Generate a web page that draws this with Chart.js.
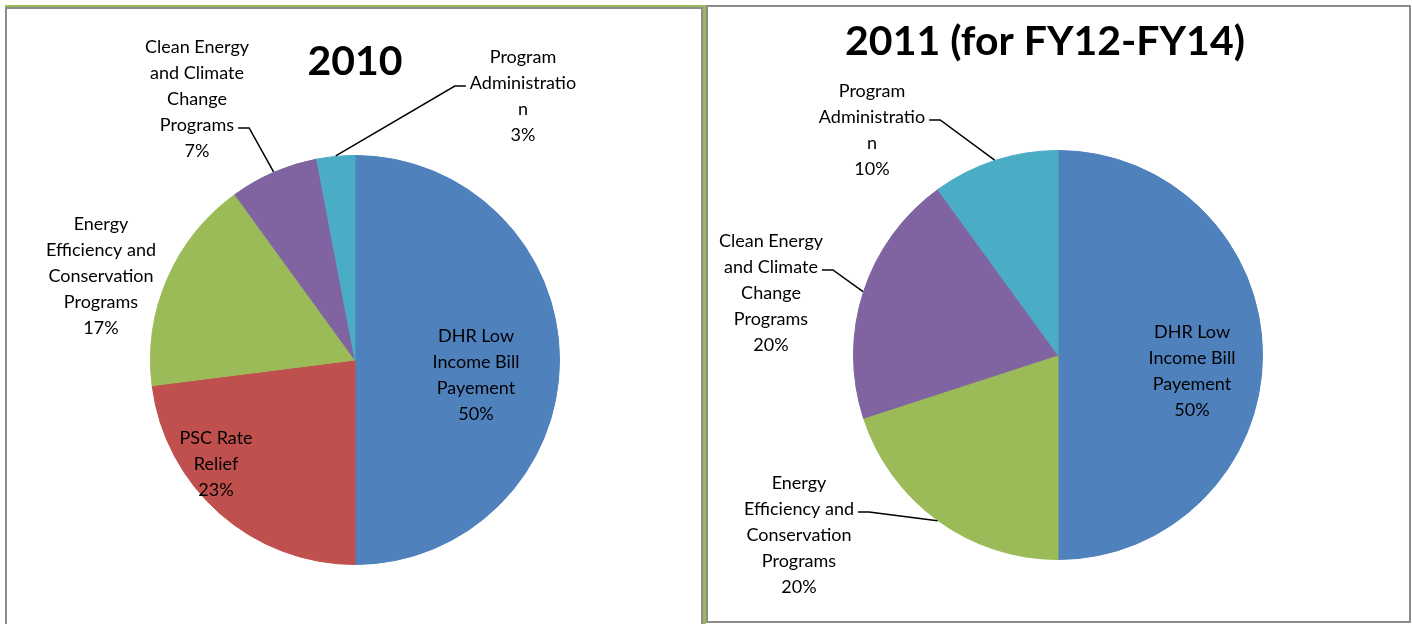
<!DOCTYPE html>
<html lang="en">
<head>
  <meta charset="UTF-8">
  <title>2010 / 2011 pie charts</title>
  <script src="https://cdn.jsdelivr.net/npm/chart.js"></script>
  <style>
    body {
      margin: 0;
      padding: 0;
      width: 1412px;
      height: 624px;
      background: #ffffff;
      position: relative;
      overflow: hidden;
    }
    /* left frame: green edge on top and right, grey inner line */
    #leftGreen {
      position: absolute;
      left: 5px; top: 5px;
      width: 701px; height: 630px;
      box-sizing: border-box;
      border-top: 2px solid #9bbb59;
      border-right: 3px solid #9bbb59;
    }
    #leftBox {
      position: absolute;
      left: 5px; top: 7px;
      width: 698px; height: 630px;
      box-sizing: border-box;
      border: 2px solid #8c8c8c;
    }
    #rightBox {
      position: absolute;
      left: 706px; top: 5px;
      width: 705px; height: 618px;
      box-sizing: border-box;
      border: 2px solid #8c8c8c;
    }
    canvas { position: absolute; }
    #chart2010 { left: 7px; top: 9px; }
    #chart2011 { left: 708px; top: 7px; }
  </style>
</head>
<body>
  <div id="leftGreen"></div>
  <div id="leftBox"></div>
  <div id="rightBox"></div>
  <canvas id="chart2010" width="694" height="615"></canvas>
  <canvas id="chart2011" width="701" height="614"></canvas>

  <script>
    // ---- data ----
    const title2010 = "2010";
    const categories2010 = [
      "DHR Low Income Bill Payement",
      "PSC Rate Relief",
      "Energy Efficiency and Conservation Programs",
      "Clean Energy and Climate Change Programs",
      "Program Administration"
    ];
    const values2010 = [50, 23, 17, 7, 3];
    const labelLines2010 = [
      ["DHR Low", "Income Bill", "Payement"],
      ["PSC Rate", "Relief"],
      ["Energy", "Efficiency and", "Conservation", "Programs"],
      ["Clean Energy", "and Climate", "Change", "Programs"],
      ["Program", "Administratio", "n"]
    ];
    const colors2010 = ["#4f81bd", "#c0504d", "#9bbb59", "#8064a2", "#4bacc6"];

    const title2011 = "2011 (for FY12-FY14)";
    const categories2011 = [
      "DHR Low Income Bill Payement",
      "Energy Efficiency and Conservation Programs",
      "Clean Energy and Climate Change Programs",
      "Program Administration"
    ];
    const values2011 = [50, 20, 20, 10];
    const labelLines2011 = [
      ["DHR Low", "Income Bill", "Payement"],
      ["Energy", "Efficiency and", "Conservation", "Programs"],
      ["Clean Energy", "and Climate", "Change", "Programs"],
      ["Program", "Administratio", "n"]
    ];
    const colors2011 = ["#4f81bd", "#9bbb59", "#8064a2", "#4bacc6"];

    // label placement relative to the pie centre (layout only)
    const layout2010 = [
      { dx: 121, dy: 13 },
      { dx: -139, dy: 102 },
      { dx: -254, dy: -86 },
      { dx: -158, dy: -263, leader: { line: 3, side: "right" } },
      { dx: 168, dy: -266, leader: { line: 1, side: "left" } }
    ];
    const layout2011 = [
      { dx: 134, dy: 14 },
      { dx: -259, dy: 178, leader: { line: 1, side: "right" } },
      { dx: -287, dy: -64, leader: { line: 1, side: "right" } },
      { dx: -186, dy: -227, leader: { line: 1, side: "right" } }
    ];

    const labelFont = '18px Lato, "Open Sans", sans-serif';
    const titleFont = 'bold 41px Lato, "Open Sans", sans-serif';
    const lineH = 26;

    // draws titles, data labels and leader lines
    const pieLabels = {
      id: "pieLabels",
      afterDraw(chart, args, opts) {
        const ctx = chart.ctx;
        const meta = chart.getDatasetMeta(0);
        const values = chart.data.datasets[0].data;
        ctx.save();
        ctx.fillStyle = "#000";
        ctx.textAlign = "center";
        ctx.textBaseline = "alphabetic";

        // title
        ctx.font = titleFont;
        ctx.fillText(opts.title, opts.titleX, opts.titleY);

        ctx.font = labelFont;
        meta.data.forEach((arc, i) => {
          const p = arc.getProps(["x", "y", "startAngle", "endAngle", "outerRadius"], true);
          const lay = opts.layout[i];
          const lines = opts.lines[i].concat([values[i] + "%"]);
          const bx = p.x + lay.dx;
          const by = p.y + lay.dy;
          const n = lines.length;
          lines.forEach((t, k) => {
            const ly = by + (k - (n - 1) / 2) * lineH;
            ctx.fillText(t, bx, ly + 8);
          });

          if (lay.leader) {
            const k = lay.leader.line;
            const ly = by + (k - (n - 1) / 2) * lineH + 5;
            const w = ctx.measureText(lines[k]).width;
            const sgn = lay.leader.side === "right" ? 1 : -1;
            const x0 = bx + sgn * (w / 2 + 4);
            const x1 = x0 + sgn * 11;
            const mid = (p.startAngle + p.endAngle) / 2;
            const ex = p.x + Math.cos(mid) * (p.outerRadius + 0.5);
            const ey = p.y + Math.sin(mid) * (p.outerRadius + 0.5);
            ctx.beginPath();
            ctx.strokeStyle = "#000";
            ctx.lineWidth = 1.5;
            ctx.moveTo(x0, ly);
            ctx.lineTo(x1, ly);
            ctx.lineTo(ex, ey);
            ctx.stroke();
          }
        });
        ctx.restore();
      }
    };

    function makePie(id, labels, values, colors, padding, labelOpts) {
      return new Chart(document.getElementById(id), {
        type: "pie",
        data: {
          labels: labels,
          datasets: [{
            data: values,
            backgroundColor: colors,
            borderColor: colors,
            borderWidth: 1,
            hoverOffset: 0,
            offset: 0
          }]
        },
        options: {
          responsive: false,
          animation: false,
          devicePixelRatio: 1,
          rotation: 0,
          layout: { padding: padding },
          events: [],
          plugins: {
            legend: { display: false },
            tooltip: { enabled: false },
            pieLabels: labelOpts
          }
        },
        plugins: [pieLabels]
      });
    }

    makePie("chart2010", categories2010, values2010, colors2010,
      { left: 143, right: 141, top: 146, bottom: 59 },
      { title: title2010, titleX: 348, titleY: 66, lines: labelLines2010, layout: layout2010 });

    makePie("chart2011", categories2011, values2011, colors2011,
      { left: 145, right: 146, top: 143, bottom: 61 },
      { title: title2011, titleX: 337, titleY: 48, lines: labelLines2011, layout: layout2011 });
  </script>
</body>
</html>
